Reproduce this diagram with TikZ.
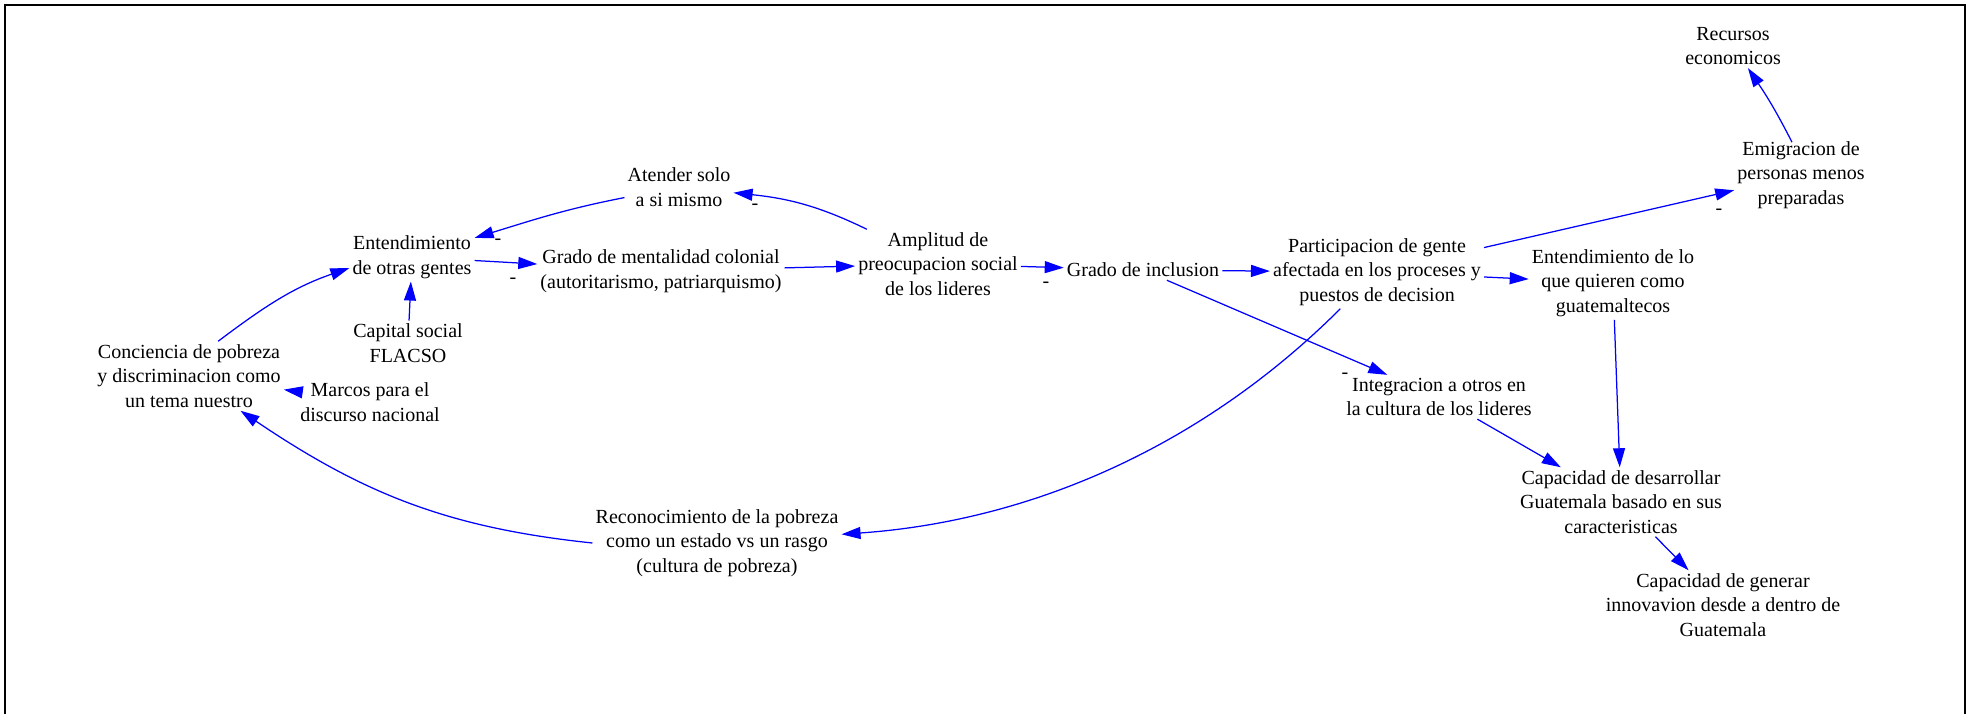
\documentclass[tikz,border=0pt]{standalone}
\usepackage{fontspec}
\setmainfont{Liberation Serif}
\usetikzlibrary{arrows.meta}
\newcommand\vfont{\fontsize{20}{24.5}\selectfont}
\tikzset{
  var/.style={align=center, inner sep=3pt, font=\vfont},
  pol/.style={inner sep=0pt, font=\vfont},
  lnk/.style={draw={rgb,255:red,0;green,0;blue,255}, line width=1.25pt, -{Triangle[length=19pt,width=12pt]}},
  frame/.style={draw=black, line width=2.2pt}
}
\begin{document}
\begin{tikzpicture}[x=1pt,y=1pt]
\useasboundingbox (0,0) rectangle (1973,-714);
\fill[white] (0,0) rectangle (1973,-714);
\draw[frame] (5,-714) -- (5,-5) -- (1965,-5) -- (1965,-714);

\node[var] (recur) at (1733,-46) {Recursos\\economicos};
\node[var] (emig) at (1801,-175) {Emigracion de\\personas menos\\preparadas};
\node[var] (aten) at (679,-187) {Atender solo\\a si mismo};
\node[var] (ent) at (412,-257) {Entendimiento\\de otras gentes};
\node[var] (gcol) at (661,-271) {Grado de mentalidad colonial\\(autoritarismo, patriarquismo)};
\node[var] (ampl) at (938,-264) {Amplitud de\\preocupacion social\\de los lideres};
\node[var] (incl) at (1143,-270) {Grado de inclusion};
\node[var] (part) at (1377,-272) {Participacion de gente\\afectada en los proceses y\\puestos de decision};
\node[var] (entlo) at (1613,-283) {Entendimiento de lo\\que quieren como\\guatemaltecos};
\node[var] (cap) at (408,-343) {Capital social\\FLACSO};
\node[var] (conc) at (189,-376) {Conciencia de pobreza\\y discriminacion como\\un tema nuestro};
\node[var] (marc) at (370,-402) {Marcos para el\\discurso nacional};
\node[var] (integ) at (1439,-397) {Integracion a otros en\\la cultura de los lideres};
\node[var] (capdes) at (1621,-502) {Capacidad de desarrollar\\Guatemala basado en sus\\caracteristicas};
\node[var] (recon) at (717,-543) {Reconocimiento de la pobreza\\como un estado vs un rasgo\\(cultura de pobreza)};
\node[var] (capgen) at (1723,-605) {Capacidad de generar\\innovavion desde a dentro de\\Guatemala};

\node[pol] (p1) at (498,-242) {-};
\node[pol] (p2) at (513,-281) {-};
\node[pol] (p3) at (755,-207) {-};
\node[pol] (p4) at (1046,-285) {-};
\node[pol] (p5) at (1345,-376) {-};
\node[pol] (p6) at (1719,-212) {-};

\draw[lnk] (conc.50) to[out=37,in=199] (ent.190);
\draw[lnk] (cap) -- (ent);
\draw[lnk] (marc) -- (conc);
\draw[lnk] (recon.west) to[out=174,in=-34] (conc);
\draw[lnk] (aten) to[out=191,in=17] (ent);
\draw[lnk] (ent) -- (gcol);
\draw[lnk] (gcol) -- (ampl);
\draw[lnk] (ampl) to[out=154,in=-6] (aten);
\draw[lnk] (ampl) -- (incl);
\draw[lnk] (incl) -- (part);
\draw[lnk] (incl) -- (integ);
\draw[lnk] (part) -- (entlo);
\draw[lnk] (part) -- (emig);
\draw[lnk] ([xshift=-9pt,yshift=-4pt]emig.north) to[out=117,in=-56] (recur);
\draw[lnk] (entlo) -- (capdes);
\draw[lnk] (integ) -- (capdes);
\draw[lnk] (capdes) -- (capgen);
\draw[lnk] (part) to[out=225,in=4,looseness=0.9] (recon);
\end{tikzpicture}
\end{document}
